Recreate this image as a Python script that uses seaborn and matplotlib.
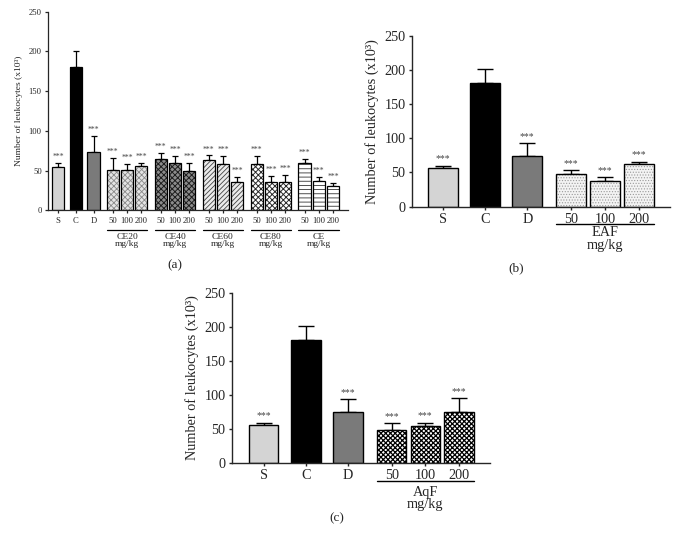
import numpy as np
import pandas as pd
import matplotlib
matplotlib.use("Agg")
import matplotlib.pyplot as plt
import seaborn as sns

sns.set_style("ticks")
plt.rcParams["font.family"] = ["Liberation Serif", "DejaVu Serif"]
plt.rcParams["hatch.linewidth"] = 0.6

# ---------------------------------------------------------------
# DATA (leukocytes x10^3, mean and upper SEM)
# ---------------------------------------------------------------
controls = ["S", "C", "D"]
doses = ["50", "100", "200"]
a_groups = ["CE20", "CE40", "CE60", "CE80", "CE"]

a_means = [55, 181, 74, 51, 51, 56, 65, 59, 50, 63, 58, 35, 58, 35, 36, 60, 37, 30]
a_errs = [4, 20, 19, 15, 7, 4, 7, 9, 10, 6, 10, 7, 10, 8, 9, 4, 5, 4]
a_stars = ["***", "", "***"] + ["***"] * 15

b_group = "EAF"
b_means = [56, 181, 74, 48, 38, 62]
b_errs = [4, 20, 19, 6, 5, 4]
b_stars = ["***", "", "***", "***", "***", "***"]

c_group = "AqF"
c_means = [55, 181, 74, 48, 54, 74]
c_errs = [4, 20, 19, 10, 5, 21]
c_stars = ["***", "", "***", "***", "***", "***"]

YLABEL = "Number of leukocytes (x10³)"

# bar fills: (facecolor, hatch, hatch colour, hatch width)
ctrl_style = [("#d4d4d4", "", "#d4d4d4", 0.6), ("black", "", "black", 0.6),
              ("#7a7a7a", "", "#7a7a7a", 0.6)]
group_style = {
    "CE20": ("#e4e4e4", "xxxxxx", "#8a8a8a", 0.6),
    "CE40": ("#8c8c8c", "xxxxxx", "#1e1e1e", 0.7),
    "CE60": ("#ececec", "///////", "#444444", 0.6),
    "CE80": ("white", "xxxxxx", "#2a2a2a", 0.7),
    "CE": ("white", "----", "#333333", 0.6),
    "EAF": ("#f3f3f3", "......", "#9a9a9a", 0.5),
    "AqF": ("white", "xxxxxxx", "black", 0.9),
}


def positions(n_groups, ctrl_step, first_gap, group_step):
    pos = [0.0, ctrl_step, 2 * ctrl_step]
    for g in range(n_groups):
        start = 2 * ctrl_step + first_gap + g * group_step
        pos += [start, start + 1, start + 2]
    return pos


def draw_panel(ax, pos, means, errs, stars, groups, fs, tick_fs, lw, cap,
               width=0.88, line_y=-0.10, text_y=-0.115, star_fs=6):
    df = pd.DataFrame({"pos": pos, "value": means})
    styles = ctrl_style + [group_style[g] for g in groups for _ in doses]
    # fill layer (hatch colour follows edge colour)
    sns.barplot(data=df, x="pos", y="value", native_scale=True, orient="x",
                width=width, errorbar=None, color="white", ax=ax)
    n = len(pos)
    for p, (fc, h, hc, hw) in zip(ax.patches[:n], styles):
        p.set_facecolor(fc)
        p.set_hatch(h)
        p.set_edgecolor(hc)
        p.set_linewidth(0)
        if hasattr(p, "set_hatch_linewidth"):
            p.set_hatch_linewidth(hw)
        p.set_zorder(2)
    # outline layer
    sns.barplot(data=df, x="pos", y="value", native_scale=True, orient="x",
                width=width, errorbar=None, color="white", ax=ax)
    for p in ax.patches[n:]:
        p.set_facecolor("none")
        p.set_edgecolor("black")
        p.set_linewidth(lw)
        p.set_zorder(2.5)
    ax.errorbar(pos, means, yerr=[np.zeros(len(errs)), errs], fmt="none",
                ecolor="black", elinewidth=lw, capsize=cap, capthick=lw, zorder=1)
    for x, m, e, s in zip(pos, means, errs, stars):
        if s:
            ax.annotate(s, (x, m + e), xytext=(0, 1.5), textcoords="offset points",
                        ha="center", va="bottom", fontsize=star_fs, color="#444444")
    labels = controls + doses * len(groups)
    ax.set_xticks(pos, labels)
    ax.set_yticks(range(0, 251, 50))
    ax.set_ylim(0, 250)
    ax.set_xlabel("")
    ax.set_ylabel(YLABEL, fontsize=fs)
    ax.tick_params(axis="both", labelsize=tick_fs, length=2.5, width=lw, pad=2)
    for sp in ["left", "bottom"]:
        ax.spines[sp].set_linewidth(lw)
    sns.despine(ax=ax)
    tr = ax.get_xaxis_transform()
    for g_i, g in enumerate(groups):
        x0 = pos[3 + 3 * g_i] - width / 2
        x1 = pos[5 + 3 * g_i] + width / 2
        ax.plot([x0, x1], [line_y, line_y], transform=tr, clip_on=False,
                color="black", lw=lw)
        ax.text((x0 + x1) / 2, text_y, g + "\nmg/kg", transform=tr, ha="center",
                va="top", fontsize=fs, linespacing=0.95)


fig = plt.figure(figsize=(6.78, 5.54), dpi=100)

# (a)
ax_a = fig.add_axes([0.0708, 0.6204, 0.4425, 0.3585])
pos_a = positions(len(a_groups), 1.25, 1.35, 3.38)
draw_panel(ax_a, pos_a, a_means, a_errs, a_stars, a_groups, fs=6.8, tick_fs=6.2,
           lw=0.9, cap=2.2, line_y=-0.099, text_y=-0.112, star_fs=5.5)
ax_a.set_xlim(-0.72, pos_a[-1] + 1.05)

# (b)
ax_b = fig.add_axes([0.6072, 0.6269, 0.381, 0.3087])
pos_b = positions(1, 1.25, 1.3, 0)
draw_panel(ax_b, pos_b, b_means, b_errs, b_stars, [b_group], fs=10.3, tick_fs=10.3,
           lw=1.0, cap=6, line_y=-0.101, text_y=-0.115, star_fs=7)
ax_b.set_xlim(-0.92, pos_b[-1] + 0.92)

# (c)
ax_c = fig.add_axes([0.3417, 0.1648, 0.381, 0.3069])
pos_c = positions(1, 1.25, 1.3, 0)
draw_panel(ax_c, pos_c, c_means, c_errs, c_stars, [c_group], fs=10.3, tick_fs=10.3,
           lw=1.0, cap=6, line_y=-0.106, text_y=-0.135, star_fs=7)
ax_c.set_xlim(-0.95, pos_c[-1] + 0.92)

fig.text(0.258, 0.5217, "(a)", ha="center", va="center", fontsize=9.5)
fig.text(0.762, 0.516, "(b)", ha="center", va="center", fontsize=9.5)
fig.text(0.4966, 0.065, "(c)", ha="center", va="center", fontsize=9.5)

fig.savefig("out.png", dpi=100)
